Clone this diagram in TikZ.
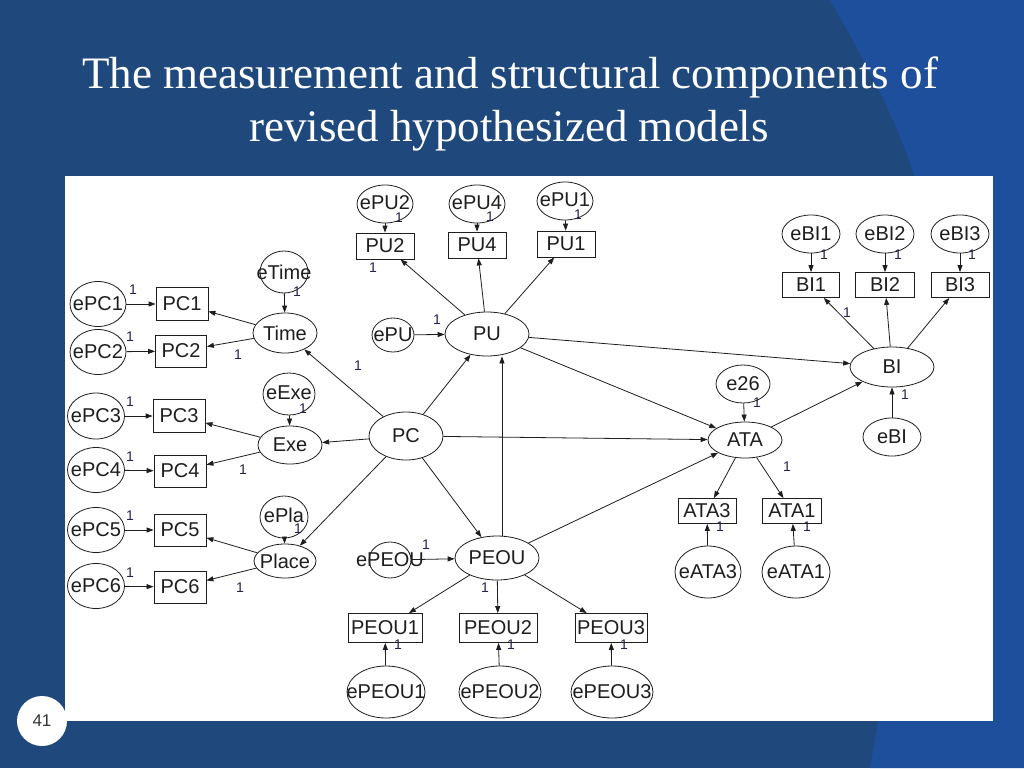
\documentclass[tikz,border=0pt]{standalone}
\usepackage{fontspec}
\setmainfont{Liberation Serif}
\newfontfamily\arialf{Liberation Sans}
\usetikzlibrary{shapes.geometric,arrows.meta}
\definecolor{bgdark}{HTML}{1F497D}
\definecolor{bglight}{HTML}{1D4F9C}
\definecolor{ink}{HTML}{1E1E1E}
\definecolor{numink}{HTML}{22224A}
\newcommand{\ov}[1]{\makebox[0pt][c]{#1}}
\begin{document}
\begin{tikzpicture}[x=1pt,y=-1pt,
  sz/.style 2 args={minimum width=#1pt, minimum height=#2pt},
  lat/.style={draw=ink, line width=0.8pt, ellipse, inner sep=0pt, font=\arialf\fontsize{20}{20}\selectfont, text=ink},
  obs/.style={draw=ink, line width=0.8pt, rectangle, inner sep=0pt, font=\arialf\fontsize{20}{20}\selectfont, text=ink},
  arr/.style={draw=ink, line width=0.8pt, -{Triangle[length=7pt,width=5pt]}},
  one/.style={font=\arialf\fontsize{14}{14}\selectfont, text=numink, inner sep=0pt},
  ttl/.style={font=\fontsize{45}{45}\selectfont, text=white, inner sep=0pt, anchor=base}]
\useasboundingbox (0,0) rectangle (1024,768);
% background
\fill[bgdark] (0,0) rectangle (1024,768);
\fill[bglight] (830,0) .. controls (862,55) and (897,120) .. (915,178) .. controls (935,300) and (900,600) .. (870,768) -- (1024,768) -- (1024,0) -- cycle;
\fill[white] (65,176) rectangle (993,721);
% title
\node[ttl] (t1) at (510,88) {The measurement and structural components of};
\node[ttl] (t2) at (509,141) {revised hypothesized models};
% page number
\node[circle, fill=white, minimum size=50pt, inner sep=0pt, font=\arialf\fontsize{17}{17}\selectfont, text=black!80] (pg) at (42,721) {41};

% PC indicators
\node[lat, sz={56}{45}] (ePC1) at (98,304) {\ov{ePC1}};
\node[lat, sz={56}{45}] (ePC2) at (98,352) {\ov{ePC2}};
\node[lat, sz={57}{46}] (ePC3) at (96,416) {\ov{ePC3}};
\node[lat, sz={57}{45}] (ePC4) at (96,470) {\ov{ePC4}};
\node[lat, sz={57}{45}] (ePC5) at (96,530) {\ov{ePC5}};
\node[lat, sz={57}{45}] (ePC6) at (96,586) {\ov{ePC6}};
\node[obs, sz={52}{33}] (PC1) at (182,304) {PC1};
\node[obs, sz={51}{32}] (PC2) at (181,351) {PC2};
\node[obs, sz={52}{33}] (PC3) at (179,416) {PC3};
\node[obs, sz={52}{32}] (PC4) at (180,471) {PC4};
\node[obs, sz={52}{32}] (PC5) at (180,530) {PC5};
\node[obs, sz={52}{32}] (PC6) at (180,587) {PC6};

\node[lat, sz={48}{42}] (eTime) at (284,272) {\ov{eTime}};
\node[lat, sz={64}{40}] (Time) at (285,333) {\ov{Time}};
\node[lat, sz={52}{42}] (eExe) at (289,394) {\raisebox{3pt}{\ov{eExe}}};
\node[lat, sz={64}{38}] (Exe) at (290,445) {\ov{Exe}};
\node[lat, sz={48}{42}] (ePla) at (284,517) {\raisebox{3pt}{\ov{ePla}}};
\node[lat, sz={62}{34}] (Place) at (285,561) {\ov{Place}};

\node[lat, sz={74}{48}] (PC) at (406,436) {\ov{PC}};

% PU
\node[lat, sz={42}{34}] (ePU) at (393,335) {\ov{ePU}};
\node[lat, sz={84}{44}] (PU) at (487,334) {\ov{PU}};
\node[obs, sz={58}{26}] (PU2) at (385,246) {PU2};
\node[obs, sz={58}{26}] (PU4) at (477,245) {PU4};
\node[obs, sz={58}{26}] (PU1) at (566,244) {PU1};
\node[lat, sz={56}{38}] (ePU2) at (385,204) {\raisebox{3pt}{\ov{ePU2}}};
\node[lat, sz={56}{38}] (ePU4) at (477,204) {\raisebox{3pt}{\ov{ePU4}}};
\node[lat, sz={56}{38}] (ePU1) at (565,201) {\raisebox{3pt}{\ov{ePU1}}};

% PEOU
\node[lat, sz={84}{44}] (PEOU) at (497,558) {\ov{PEOU}};
\node[lat, sz={42}{36}] (ePEOU) at (390,560) {\ov{ePEOU}};
\node[obs, sz={74}{29}] (PEOU1) at (385,628) {PEOU1};
\node[obs, sz={78}{29}] (PEOU2) at (498,628) {PEOU2};
\node[obs, sz={72}{29}] (PEOU3) at (611,628) {PEOU3};
\node[lat, sz={78}{52}] (ePEOU1) at (386,692) {\ov{ePEOU1}};
\node[lat, sz={82}{52}] (ePEOU2) at (500,692) {\ov{ePEOU2}};
\node[lat, sz={82}{52}] (ePEOU3) at (612,692) {\ov{ePEOU3}};

% ATA
\node[lat, sz={74}{36}] (ATA) at (745,440) {\ov{ATA}};
\node[lat, sz={54}{38}] (e26) at (743,384) {\ov{e26}};
\node[obs, sz={58}{25}] (ATA3) at (707,511) {ATA3};
\node[obs, sz={59}{25}] (ATA1) at (792,511) {ATA1};
\node[lat, sz={66}{52}] (eATA3) at (708,572) {\ov{eATA3}};
\node[lat, sz={68}{52}] (eATA1) at (796,572) {\ov{eATA1}};

% BI
\node[lat, sz={84}{40}] (BI) at (892,367) {\ov{BI}};
\node[lat, sz={58}{38}] (eBI) at (892,437) {\ov{eBI}};
\node[obs, sz={57}{25}] (BI1) at (811,285) {BI1};
\node[obs, sz={59}{25}] (BI2) at (885,285) {BI2};
\node[obs, sz={58}{25}] (BI3) at (960,285) {BI3};
\node[lat, sz={58}{38}] (eBI1) at (811,234) {\ov{eBI1}};
\node[lat, sz={58}{38}] (eBI2) at (885,234) {\ov{eBI2}};
\node[lat, sz={58}{38}] (eBI3) at (960,234) {\ov{eBI3}};

% connectors
\foreach \i in {1,...,6} {\draw[arr] (ePC\i) -- (PC\i);}
\draw[arr] (Time) -- (PC1);
\draw[arr] (Time) -- (PC2);
\draw[arr] (eTime) -- (Time);
\draw[arr] (Exe) -- (PC3);
\draw[arr] (Exe) -- (PC4);
\draw[arr] (eExe) -- (Exe);
\draw[arr] (Place) -- (PC5);
\draw[arr] (Place) -- (PC6);
\draw[arr] (ePla) -- (Place);
\draw[arr] (PC) -- (Time);
\draw[arr] (PC) -- (Exe);
\draw[arr] (PC) -- (Place);
\draw[arr] (PC) -- (PU);
\draw[arr] (PC) -- (PEOU);
\draw[arr] (PC) -- (ATA);
\draw[arr] (ePU) -- (PU);
\draw[arr] (PU) -- (PU2);
\draw[arr] (PU) -- (PU4);
\draw[arr] (PU) -- (PU1);
\draw[arr] (ePU2) -- (PU2);
\draw[arr] (ePU4) -- (PU4);
\draw[arr] (ePU1) -- (PU1);
\draw[arr] (PU) -- (BI);
\draw[arr] (PU) -- (ATA);
\draw[arr] ([xshift=5pt]PEOU.north) -- ([xshift=5pt]PEOU.north |- PU.south);
\draw[arr] (PEOU) -- (ATA);
\draw[arr] (ePEOU) -- (PEOU);
\draw[arr] (PEOU) -- (PEOU1);
\draw[arr] (PEOU) -- (PEOU2);
\draw[arr] (PEOU) -- (PEOU3);
\draw[arr] (ePEOU1) -- (PEOU1);
\draw[arr] (ePEOU2) -- (PEOU2);
\draw[arr] (ePEOU3) -- (PEOU3);
\draw[arr] (e26) -- (ATA);
\draw[arr] (ATA) -- (BI);
\draw[arr] (ATA) -- (ATA3);
\draw[arr] (ATA) -- (ATA1);
\draw[arr] (eATA3) -- (ATA3);
\draw[arr] (eATA1) -- (ATA1);
\draw[arr] (eBI) -- (BI);
\draw[arr] (BI) -- (BI1);
\draw[arr] (BI) -- (BI2);
\draw[arr] (BI) -- (BI3);
\draw[arr] (eBI1) -- (BI1);
\draw[arr] (eBI2) -- (BI2);
\draw[arr] (eBI3) -- (BI3);

% weight labels
\node[one] (w1) at (133,290) {1};
\node[one] (w2) at (130,337) {1};
\node[one] (w3) at (130,402) {1};
\node[one] (w4) at (130,457) {1};
\node[one] (w5) at (130,516) {1};
\node[one] (w6) at (130,573) {1};
\node[one] (w7) at (297,292) {1};
\node[one] (w8) at (238,355) {1};
\node[one] (w9) at (303,409) {1};
\node[one] (w10) at (243,470) {1};
\node[one] (w11) at (298,529) {1};
\node[one] (w12) at (240,588) {1};
\node[one] (w13) at (358,366) {1};
\node[one] (w14) at (399,218) {1};
\node[one] (w15) at (490,217) {1};
\node[one] (w16) at (578,215) {1};
\node[one] (w17) at (373,268) {1};
\node[one] (w18) at (437,320) {1};
\node[one] (w19) at (426,545) {1};
\node[one] (w20) at (485,588) {1};
\node[one] (w21) at (398,645) {1};
\node[one] (w22) at (511,645) {1};
\node[one] (w23) at (624,645) {1};
\node[one] (w24) at (757,403) {1};
\node[one] (w25) at (787,467) {1};
\node[one] (w26) at (720,527) {1};
\node[one] (w27) at (807,527) {1};
\node[one] (w28) at (824,255) {1};
\node[one] (w29) at (898,255) {1};
\node[one] (w30) at (972,255) {1};
\node[one] (w31) at (847,313) {1};
\node[one] (w32) at (905,395) {1};
\end{tikzpicture}
\end{document}
